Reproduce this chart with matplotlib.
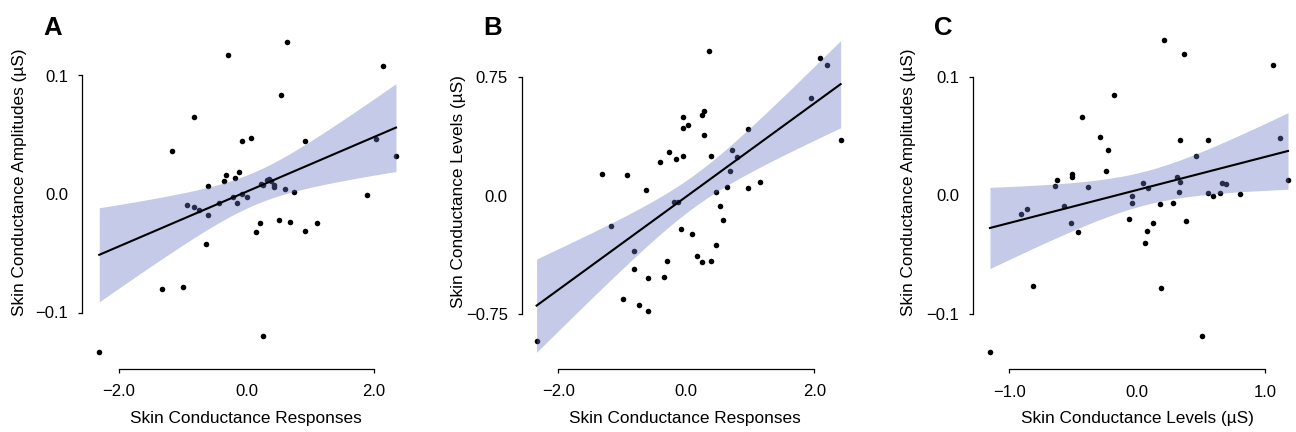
import numpy as np
import matplotlib.pyplot as plt

plt.rcParams['font.family'] = ['Liberation Sans', 'DejaVu Sans']

W, H = 1296, 432

# panel A: skin conductance responses vs amplitudes
a_scr = [-2.31, -1.32, -1.00, -1.17, -0.82, -0.285, 0.64, 0.536, 2.136, 2.03,
         2.345, 1.885, 0.923, -0.065, 0.076, -0.928, -0.818, -0.745, -0.604, -0.604,
         -0.64, -0.426, -0.353, -0.316, -0.18, -0.11, -0.21, -0.144, -0.065, 0.003,
         0.144, 0.217, 0.222, 0.26, 0.316, 0.358, 0.385, 0.426, 0.426, 0.604,
         0.745, 0.505, 0.677, 0.923, 1.106, 0.254]
a_sca = [-0.1337, -0.0798, -0.0781, 0.0366, 0.0646, 0.1174, 0.1286, 0.0832, 0.1081, 0.0464,
         0.0318, -0.001, 0.045, 0.0445, 0.0475, -0.0091, -0.0111, -0.0133, -0.0175, 0.0066,
         -0.042, -0.008, 0.0108, 0.0164, 0.0133, 0.0187, -0.0027, -0.0077, 0.0001, -0.0024,
         -0.0324, -0.0245, 0.0086, 0.0077, 0.0116, 0.013, 0.0108, 0.0058, 0.008, 0.0046,
         0.0013, -0.0217, -0.0237, -0.0313, -0.0245, -0.1202]

# panel B: skin conductance responses vs levels
b_scr = [-2.339, -1.323, -1.177, -0.922, -0.995, -0.8125, -0.8125, -0.74, -0.594, -0.594,
         -0.63, -0.417, -0.271, -0.307, -0.344, -0.161, -0.198, -0.125, -0.052, -0.052,
         0.021, -0.052, -0.089, 0.094, 0.167, 0.24, 0.385, 0.24, 0.276, 0.276,
         0.385, 0.349, 0.458, 0.458, 0.531, 0.568, 0.64, 0.677, 0.714, 0.786,
         0.964, 0.964, 1.146, 1.943, 2.089, 2.193, 2.411]
b_scl = [-0.918, 0.137, -0.194, 0.131, -0.655, -0.354, -0.468, -0.693, -0.729, -0.52,
         0.034, 0.209, 0.276, -0.417, -0.514, 0.232, -0.044, -0.044, 0.495, 0.426,
         0.449, 0.251, -0.209, -0.244, -0.381, -0.423, -0.417, 0.508, 0.533, 0.386,
         0.249, 0.914, 0.021, -0.316, -0.065, -0.156, 0.051, 0.152, 0.291, 0.242,
         0.419, 0.048, 0.086, 0.619, 0.868, 0.828, 0.352]

# panel C: skin conductance levels vs amplitudes
c_scl = [-1.151, -0.812, -0.909, -0.862, -0.643, -0.63, -0.572, -0.512, -0.51, -0.518,
         -0.463, -0.432, -0.382, -0.291, -0.228, -0.247, -0.184, -0.064, -0.04, -0.04,
         0.043, 0.085, 0.077, 0.059, 0.126, 0.178, 0.189, 0.209, 0.282, 0.313,
         0.332, 0.324, 0.332, 0.369, 0.385, 0.463, 0.507, 0.551, 0.557, 0.59,
         0.645, 0.661, 0.695, 0.802, 1.063, 1.12, 1.18]
c_sca = [-0.1323, -0.0764, -0.0154, -0.0115, 0.0084, 0.0129, -0.009, 0.0185, 0.0154, -0.0228,
         -0.0306, 0.0666, 0.0073, 0.0497, 0.0385, 0.0205, 0.0851, -0.0199, -0.0008, -0.0062,
         0.0104, 0.0067, -0.0298, -0.0404, -0.023, -0.0073, -0.0784, 0.1309, -0.0062, 0.0152,
         0.0115, 0.0031, 0.0466, 0.1197, -0.0219, 0.0337, -0.1185, 0.0469, 0.002, -0.0008,
         0.002, 0.0107, 0.0096, 0.0011, 0.1104, 0.0483, 0.0135]

T95 = 2.01
BAND = (102/255, 118/255, 194/255)


def fit_band(x, y):
    x = np.asarray(x)
    y = np.asarray(y)
    n = len(x)
    b, a = np.polyfit(x, y, 1)
    xs = np.linspace(x.min(), x.max(), 200)
    yh = a + b * xs
    s = np.sqrt(((y - (a + b * x)) ** 2).sum() / (n - 2))
    se = s * np.sqrt(1 / n + (xs - x.mean()) ** 2 / ((x - x.mean()) ** 2).sum())
    return xs, yh, yh - T95 * se, yh + T95 * se


fig = plt.figure(figsize=(W / 100, H / 100), dpi=100)


def panel(x, y, xt, xtl, xpx, yt, ytl, ypx, xlim, ylim, spx, spy,
          letter, lpx, xlab, xlpx, ylab, ylpx):
    sx = (xpx[1] - xpx[0]) / (xt[-1] - xt[0])
    left = xpx[0] + (xlim[0] - xt[0]) * sx
    right = xpx[0] + (xlim[1] - xt[0]) * sx
    sy = (ypx[1] - ypx[0]) / (yt[-1] - yt[0])
    top = ypx[0] + (ylim[1] - yt[0]) * sy
    bot = ypx[0] + (ylim[0] - yt[0]) * sy
    ax = fig.add_axes([left / W, 1 - bot / H, (right - left) / W, (bot - top) / H])
    ax.set_xlim(xlim)
    ax.set_ylim(ylim)

    ax.scatter(x, y, s=16, color='black', linewidths=0, zorder=1)
    xs, yh, lo, hi = fit_band(x, y)
    ax.fill_between(xs, lo, hi, color=BAND, alpha=0.38, linewidth=0, zorder=2)
    ax.plot(xs, yh, color='black', lw=1.5, zorder=3)

    for s in ['top', 'right']:
        ax.spines[s].set_visible(False)
    ax.spines['left'].set_position(('outward', (left - spx) * 0.72))
    ax.spines['bottom'].set_position(('outward', (spy - bot) * 0.72))
    ax.spines['left'].set_bounds(yt[0], yt[-1])
    ax.spines['bottom'].set_bounds(xt[0], xt[-1])
    for s in ['left', 'bottom']:
        ax.spines[s].set_linewidth(0.9)
    ax.set_xticks(xt)
    ax.set_xticklabels(xtl)
    ax.set_yticks(yt)
    ax.set_yticklabels(ytl)
    ax.tick_params(length=3, width=0.9, labelsize=12, colors='black')
    ax.tick_params(axis='y', pad=7)
    ax.tick_params(axis='x', pad=8)
    ax.xaxis.get_major_ticks()[1].tick1line.set_visible(False)
    ax.yaxis.get_major_ticks()[1].tick1line.set_visible(False)

    fig.text(lpx[0] / W, 1 - lpx[1] / H, letter, fontsize=18.5, fontweight='bold',
             ha='left', va='baseline')
    fig.text(xlpx[0] / W, 1 - xlpx[1] / H, xlab, fontsize=12.4, ha='center', va='center')
    fig.text(ylpx[0] / W, 1 - ylpx[1] / H, ylab, fontsize=12.4, ha='center', va='center',
             rotation=90)
    return ax


panel(a_scr, a_sca, [-2.0, 0.0, 2.0], ['\u22122.0', '0.0', '2.0'], (119, 374),
      [-0.1, 0.0, 0.1], ['\u22120.1', '0.0', '0.1'], (312.5, 75.5),
      (-2.45, 2.48), (-0.14, 0.135), 82, 369,
      'A', (43, 35), 'Skin Conductance Responses', (246, 419),
      'Skin Conductance Amplitudes (\u00b5S)', (20, 182))

panel(b_scr, b_scl, [-2.0, 0.0, 2.0], ['\u22122.0', '0.0', '2.0'], (558.3, 814.3),
      [-0.75, 0.0, 0.75], ['\u22120.75', '0.0', '0.75'], (314, 77),
      (-2.45, 2.52), (-1.0, 1.0), 521.7, 369,
      'B', (483, 35), 'Skin Conductance Responses', (685, 419),
      'Skin Conductance Levels (\u00b5S)', (458, 192))

panel(c_scl, c_sca, [-1.0, 0.0, 1.0], ['\u22121.0', '0.0', '1.0'], (1009.3, 1265),
      [-0.1, 0.0, 0.1], ['\u22120.1', '0.0', '0.1'], (314, 77),
      (-1.2, 1.22), (-0.14, 0.135), 973.3, 369.3,
      'C', (934, 35), 'Skin Conductance Levels (\u00b5S)', (1137, 419),
      'Skin Conductance Amplitudes (\u00b5S)', (909, 182))

fig.savefig('out.png', dpi=100)
